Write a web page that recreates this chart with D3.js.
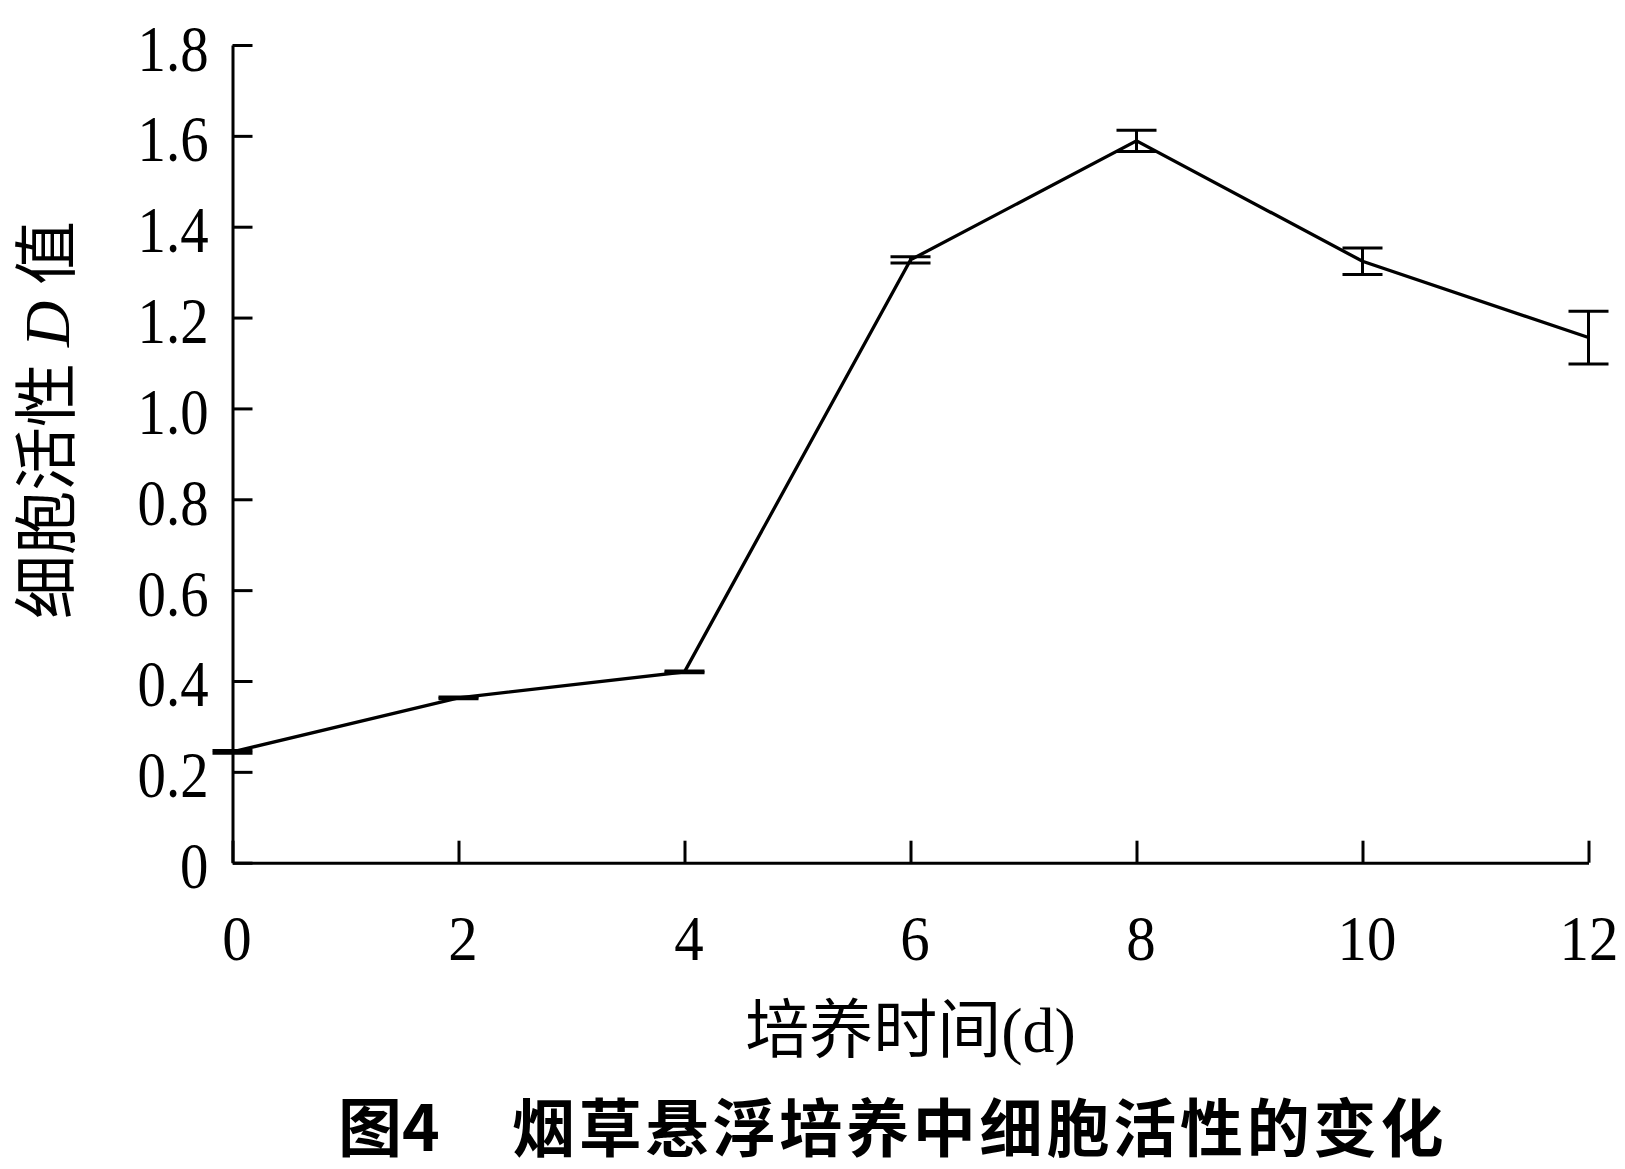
<!DOCTYPE html>
<html>
<head>
<meta charset="utf-8">
<script src="https://cdn.jsdelivr.net/npm/d3@7"></script>
<style>
  html, body { margin: 0; padding: 0; background: #fff; }
  svg { display: block; }
</style>
</head>
<body>
<svg id="chart" width="1625" height="1169"></svg>
<script>
// ---- data ----
const days = [0, 2, 4, 6, 8, 10, 12];
const activity = [0.244, 0.363, 0.420, 1.327, 1.589, 1.324, 1.156];
const errors = [0.003, 0.002, 0.002, 0.007, 0.0235, 0.029, 0.058];
const xTicks = [0, 2, 4, 6, 8, 10, 12];
const yTicks = [0, 0.2, 0.4, 0.6, 0.8, 1.0, 1.2, 1.4, 1.6, 1.8];
const xTitle = "培养时间(d)";
const yTitleA = "细胞活性 ";
const yTitleItalic = "D";
const yTitleB = " 值";
const captionFig = "图4";
const captionText = "烟草悬浮培养中细胞活性的变化";

// ---- layout ----
const svg = d3.select("#chart");
const x = d3.scaleLinear().domain([0, 12]).range([232.5, 1588.5]);
const y = d3.scaleLinear().domain([0, 1.8]).range([862.7, 45]);
const latin = "'Liberation Serif', 'Times New Roman', serif";
const cjk = "'Liberation Serif', 'Noto Sans CJK SC', serif";

function condense(sel, f) {
  sel.each(function () {
    const w = this.getComputedTextLength();
    d3.select(this).attr("textLength", w * f).attr("lengthAdjust", "spacingAndGlyphs");
  });
}

// y axis
const gy = svg.append("g").attr("transform", `translate(${x(0)},0)`)
  .call(d3.axisLeft(y).tickValues(yTicks).tickSizeInner(-20).tickSizeOuter(0)
    .tickFormat(d => d === 0 ? "0" : d.toFixed(1)));
gy.attr("font-size", null);
gy.select(".domain").attr("stroke", "#000").attr("stroke-width", 3);
gy.selectAll(".tick line").attr("stroke", "#000").attr("stroke-width", 3);
gy.selectAll(".tick text")
  .attr("x", -24).attr("dy", 0).attr("y", 25)
  .attr("font-family", latin).attr("font-size", 66).attr("fill", "#000")
  .attr("text-anchor", "end");
condense(gy.selectAll(".tick text"), 0.86);

// x axis
const gx = svg.append("g").attr("transform", `translate(0,${y(0)})`)
  .call(d3.axisBottom(x).tickValues(xTicks).tickSizeInner(-22).tickSizeOuter(0)
    .tickFormat(d => String(d)));
gx.attr("font-size", null);
gx.select(".domain").attr("stroke", "#000").attr("stroke-width", 3);
gx.selectAll(".tick line").attr("stroke", "#000").attr("stroke-width", 3);
gx.selectAll(".tick text")
  .attr("x", d => d === 12 ? 0 : 4).attr("dy", 0).attr("y", 97)
  .attr("font-family", latin).attr("font-size", 64).attr("fill", "#000")
  .attr("text-anchor", "middle");
condense(gx.selectAll(".tick text"), 0.92);

// error bars
const capHalf = 20;
const eb = svg.append("g").attr("stroke", "#000").attr("stroke-width", 3).attr("fill", "none");
days.forEach((d, i) => {
  const cx = x(d), top = y(activity[i] + errors[i]), bot = y(activity[i] - errors[i]);
  eb.append("line").attr("x1", cx).attr("x2", cx).attr("y1", top).attr("y2", bot);
  eb.append("line").attr("x1", cx - capHalf).attr("x2", cx + capHalf).attr("y1", top).attr("y2", top);
  eb.append("line").attr("x1", cx - capHalf).attr("x2", cx + capHalf).attr("y1", bot).attr("y2", bot);
});

// line
const line = d3.line().x((d, i) => x(days[i])).y(d => y(d));
svg.append("path").datum(activity).attr("d", line)
  .attr("fill", "none").attr("stroke", "#000").attr("stroke-width", 3.3)
  .attr("stroke-linejoin", "miter");

// x title
svg.append("text").attr("x", x(6)).attr("y", 1052)
  .attr("text-anchor", "middle").attr("font-family", cjk).attr("font-size", 64)
  .attr("fill", "#000").text(xTitle);

// y title
const yt = svg.append("text").attr("transform", "translate(47,420) rotate(-90)")
  .attr("text-anchor", "middle").attr("dominant-baseline", "central")
  .attr("font-family", cjk).attr("font-size", 64).attr("fill", "#000");
yt.append("tspan").text(yTitleA);
yt.append("tspan").attr("font-style", "italic").attr("font-family", latin).text(yTitleItalic);
yt.append("tspan").text(yTitleB);

// caption
svg.append("text").attr("x", 338).attr("y", 1151)
  .attr("font-family", "'Noto Sans CJK SC', sans-serif").attr("font-weight", 700)
  .attr("font-size", 64).attr("fill", "#000").text(captionFig);
svg.append("text").attr("x", 512).attr("y", 1151)
  .attr("font-family", "'Noto Sans CJK SC', sans-serif").attr("font-weight", 700)
  .attr("font-size", 63).attr("letter-spacing", 3.8).attr("fill", "#000").text(captionText);
</script>
</body>
</html>
